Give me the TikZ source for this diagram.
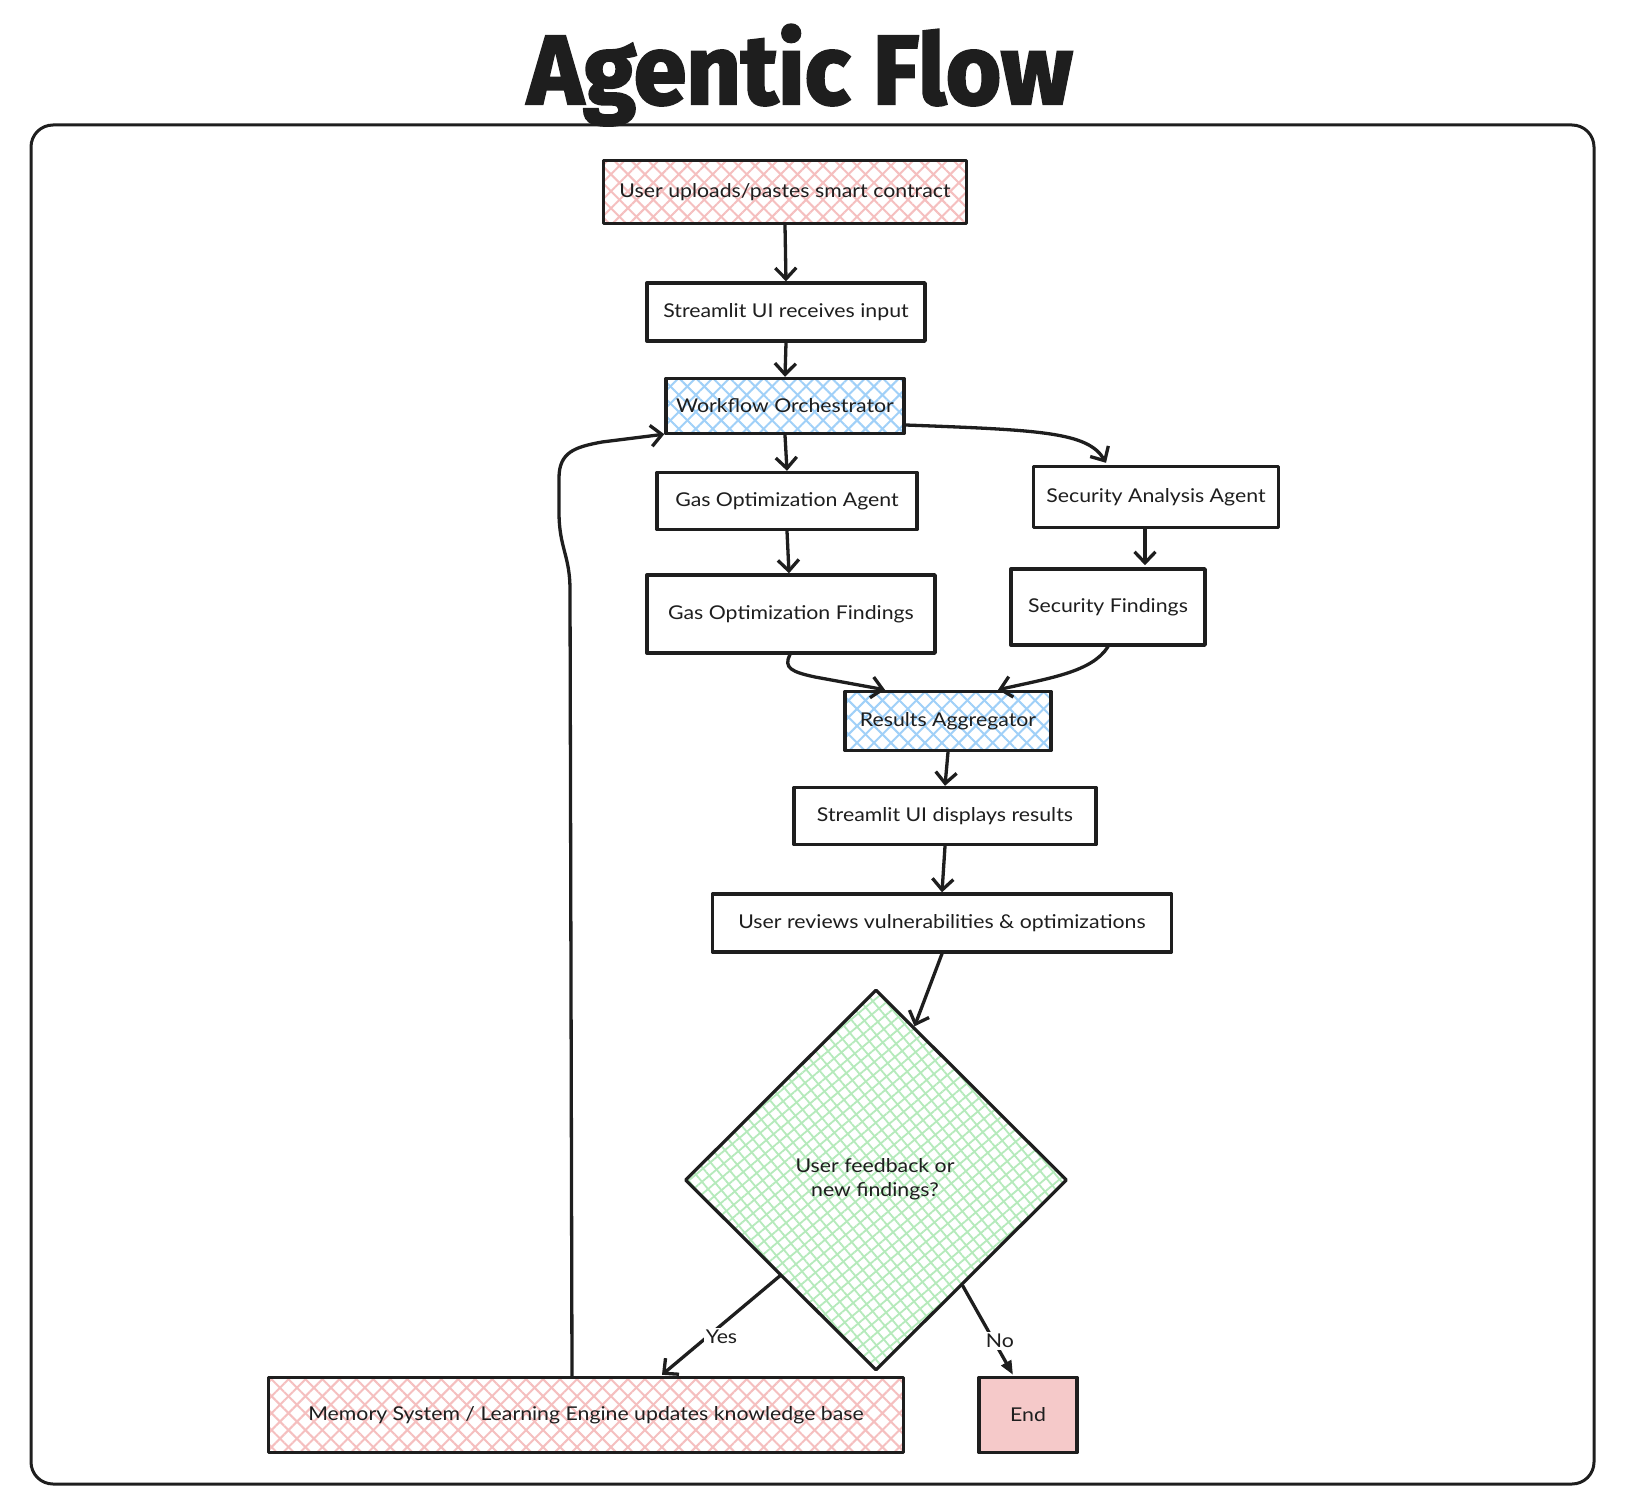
\documentclass[tikz,border=0pt]{standalone}
\usepackage{fontspec}
\setmainfont{Lato}[FakeStretch=1.12]
\newfontfamily\titlefont[FakeStretch=0.97, BoldFeatures={FakeBold=2.5}]{Fira Sans}
\usetikzlibrary{arrows.meta,shapes.geometric,patterns.meta,calc}
\definecolor{ink}{HTML}{1E1E1E}
\definecolor{pinkh}{HTML}{F5BFBF}
\definecolor{blueh}{HTML}{A0D0F8}
\definecolor{greenh}{HTML}{B5EABB}
\definecolor{endfill}{HTML}{F5C9C9}
\begin{document}
\begin{tikzpicture}[x=1pt,y=-1pt,
  every node/.style={text=ink},
  box/.style={draw=ink, line width=3.4pt, line join=round, fill=white, rectangle,
    inner sep=0pt, font=\fontsize{19}{23}\selectfont, align=center},
  hatch/.style={fill=none,
    preaction={fill=white},
    preaction={pattern={Lines[angle=45,distance=12pt,line width=2pt]}, pattern color=#1},
    preaction={pattern={Lines[angle=-45,distance=12pt,line width=2pt]}, pattern color=#1}},
  grid/.style={fill=none,
    preaction={fill=white},
    preaction={pattern={Lines[angle=40,distance=9.5pt,line width=1.8pt]}, pattern color=#1},
    preaction={pattern={Lines[angle=-50,distance=9.5pt,line width=1.8pt]}, pattern color=#1}},
  arr/.style={draw=ink, line width=3.3pt, line cap=round, line join=round,
    -{Straight Barb[length=11pt,width=21pt]}},
  lbl/.style={fill=white, inner sep=2pt, font=\fontsize{19}{23}\selectfont}
]
\useasboundingbox (0,0) rectangle (1636,1498);

% title
\node[anchor=base, inner sep=0pt, font=\titlefont\bfseries\fontsize{98}{100}\selectfont] (title) at (800,104) {Agentic Flow};

% outer frame
\draw[draw=ink, line width=3pt, rounded corners=22pt] (31,125) rectangle (1594,1484);

% nodes
\node[box, hatch=pinkh, minimum width=363pt, minimum height=63pt] (n1) at (785,192) {User uploads/pastes smart contract};
\node[box, minimum width=278pt, minimum height=58pt] (n2) at (786,312) {Streamlit UI receives input};
\node[box, hatch=blueh, minimum width=238pt, minimum height=55pt] (n3) at (785,406) {Workflow Orchestrator};
\node[box, minimum width=260pt, minimum height=57pt] (n4) at (787,501) {Gas Optimization Agent};
\node[box, minimum width=245pt, minimum height=61pt] (n5) at (1156,497) {Security Analysis Agent};
\node[box, minimum width=288pt, minimum height=78pt] (n6) at (791,614) {Gas Optimization Findings};
\node[box, minimum width=194pt, minimum height=76pt] (n7) at (1108,607) {Security Findings};
\node[box, hatch=blueh, minimum width=206pt, minimum height=59pt] (n8) at (948,721) {Results Aggregator};
\node[box, minimum width=302pt, minimum height=57pt] (n9) at (945,816) {Streamlit UI displays results};
\node[box, minimum width=459pt, minimum height=58pt] (n10) at (942,923) {User reviews vulnerabilities \& optimizations};
\node[box, diamond, grid=greenh, minimum width=382pt, minimum height=381pt, line width=3.2pt] (n11) at (876,1180) {};
\node[font=\fontsize{19}{24}\selectfont, align=center] (n11t) at (875,1179) {User feedback or\\new findings?};
\node[box, hatch=pinkh, minimum width=635pt, minimum height=75pt] (n12) at (586,1415) {Memory System / Learning Engine updates knowledge base};
\node[box, fill=endfill, minimum width=98pt, minimum height=75pt] (n13) at (1028,1415) {End};

% connectors
\draw[arr] (n1.south) -- (n2.north);
\draw[arr] (n2.south) -- (n3.north);
\draw[arr] (n3.south) -- (n4.north);
\draw[arr] ($(n3.east)+(0,19)$) .. controls (1040,430) and (1088,432) .. ($(n5.north)+(-50,-2)$);
\draw[arr] (n4.south) -- ($(n6.north)+(-2,0)$);
\draw[arr] ($(n5.south)+(-11,0)$) -- ($(n5.south)+(-11,36)$) coordinate (n5a);
\draw[arr] ($(n6.south)+(-1,0)$) .. controls (783,668) and (792,672) .. (815,677) -- ($(n8.north)+(-63,0)$);
\draw[arr] (n7.south) .. controls (1092,672) and (1050,678) .. ($(n8.north)+(50,0)$);
\draw[arr] (n8.south) -- (n9.north);
\draw[arr] (n9.south) -- (n10.north);
\draw[arr] (n10.south) -- ($(n11.north)!0.2!(n11.east)$);
\draw[arr] ($(n11.west)!0.5!(n11.south)$) -- node[lbl, pos=0.52, yshift=-9pt, xshift=3pt] {Yes} ($(n12.north)+(76,-1)$);
\draw[draw=ink, line width=3.3pt, line cap=round, -{Triangle[length=14pt,width=11pt]}] ($(n11.east)!0.55!(n11.south)$) -- node[lbl, pos=0.62, xshift=6pt] {No} ($(n13.north)+(-15,-1)$);
\draw[arr] ($(n12.north)+(-14,0)$) -- (570,590) .. controls (570,555) and (559,548) .. (559,512) -- (559,478) .. controls (559,452) and (575,447) .. (602,442) -- ($(n3.south west)+(0,-1)$);
\end{tikzpicture}
\end{document}
